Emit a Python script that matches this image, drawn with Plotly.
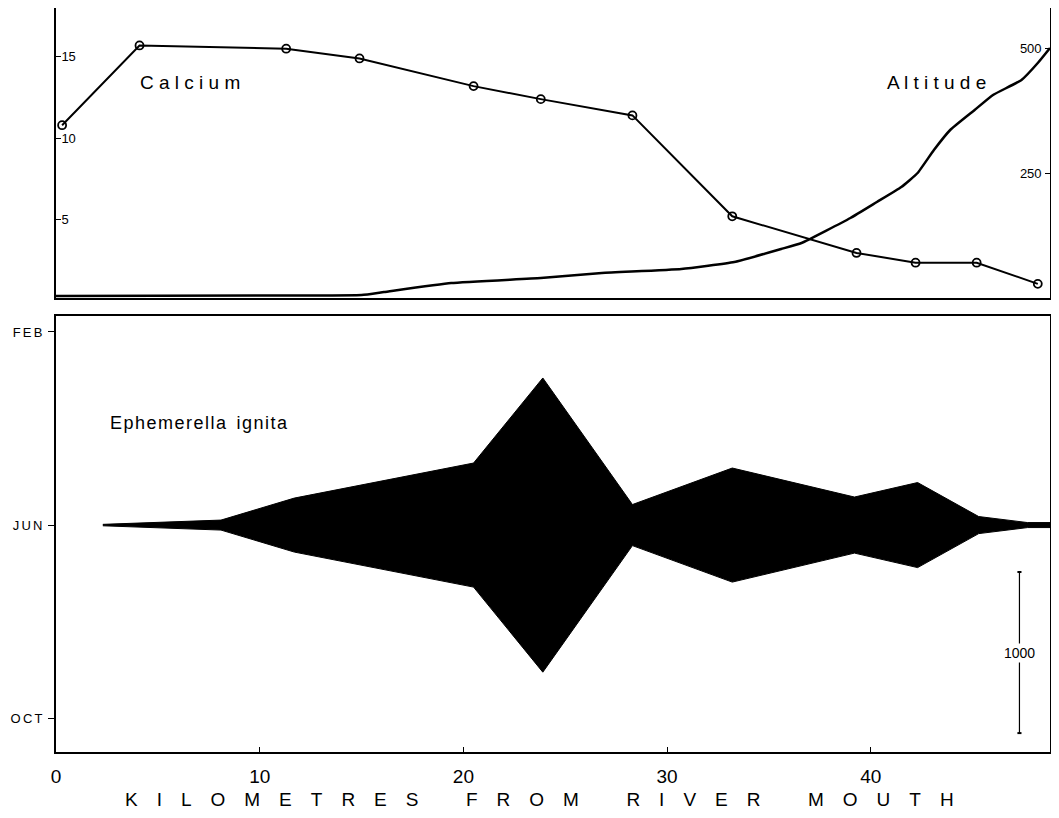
import plotly.graph_objects as go

# ---------------- data ----------------
# Calcium (top panel, left axis)
calcium_km = [0.3, 4.1, 11.3, 14.9, 20.5, 23.8, 28.3, 33.2, 39.3, 42.2, 45.2, 48.2]
calcium_val = [10.8, 15.7, 15.5, 14.9, 13.2, 12.4, 11.4, 5.2, 2.95, 2.35, 2.35, 1.05]

# Altitude (top panel, right axis)
alt_km = [0.0, 10.0, 15.0, 16.1, 19.4, 23.8, 26.8, 30.7, 33.3, 35.6, 36.6, 39.0, 40.3,
          41.5, 42.3, 43.1, 43.9, 45.1, 46.0, 47.4, 48.2, 48.8]
alt_m = [4, 5, 6, 12, 30, 40, 50, 58, 72, 98, 110, 160, 192,
         222, 250, 296, 336, 376, 406, 436, 470, 500]

# Ephemerella ignita abundance (kite diagram, bottom panel)
kite_km = [2.3, 8.1, 11.7, 20.5, 23.9, 28.3, 33.2, 39.2, 42.3, 45.3, 47.7, 48.8]
kite_n = [9, 62, 335, 770, 1826, 255, 708, 348, 528, 106, 31, 31]

month_ticks = [2, 6, 10]
month_labels = ["F\u2006E\u2006B", "J\u2006U\u2006N", "O\u2006C\u2006T"]
km_ticks = [0, 10, 20, 30, 40]
cal_ticks = [5, 10, 15]
alt_ticks = [250, 500]

KITE_CENTRE = 6            # JUN
MONTHS_PER_1000 = 3.337    # thickness of 1000 individuals, in month units
SCALE_N = 1000
SCALE_KM = 47.3
SCALE_CENTRE = 8.64

# ---------------- figure ----------------
fig = go.Figure()

half = [n / 1000 * MONTHS_PER_1000 / 2 for n in kite_n]
upper = [KITE_CENTRE - h for h in half]
lower = [KITE_CENTRE + h for h in half]
fig.add_trace(go.Scatter(
    x=kite_km + kite_km[::-1], y=upper + lower[::-1],
    fill="toself", fillcolor="black", mode="lines",
    line=dict(color="black", width=1), xaxis="x", yaxis="y",
    showlegend=False, hoverinfo="skip"))

# scale bar
sh = SCALE_N / 1000 * MONTHS_PER_1000 / 2
fig.add_trace(go.Scatter(
    x=[SCALE_KM, SCALE_KM], y=[SCALE_CENTRE - sh, SCALE_CENTRE + sh],
    mode="lines", line=dict(color="black", width=1.2),
    xaxis="x", yaxis="y", showlegend=False, hoverinfo="skip"))
for yy in (SCALE_CENTRE - sh, SCALE_CENTRE + sh):
    fig.add_trace(go.Scatter(
        x=[SCALE_KM - 0.1, SCALE_KM + 0.1], y=[yy, yy], mode="lines",
        line=dict(color="black", width=2), xaxis="x", yaxis="y",
        showlegend=False, hoverinfo="skip"))
fig.add_annotation(x=SCALE_KM, y=SCALE_CENTRE, xref="x", yref="y",
                   text=str(SCALE_N), showarrow=False, bgcolor="white",
                   font=dict(family="Liberation Sans", size=14, color="black"),
                   borderpad=1)

# altitude
fig.add_trace(go.Scatter(
    x=alt_km, y=alt_m, mode="lines", line=dict(color="black", width=2.5, shape="spline", smoothing=0.4),
    xaxis="x2", yaxis="y3", showlegend=False, hoverinfo="skip"))

# calcium
fig.add_trace(go.Scatter(
    x=calcium_km, y=calcium_val, mode="lines+markers",
    line=dict(color="black", width=2),
    marker=dict(symbol="circle-open", size=8, color="black", line=dict(width=1.8)),
    xaxis="x2", yaxis="y2", showlegend=False, hoverinfo="skip"))

axis_common = dict(showgrid=False, zeroline=False, linecolor="black", linewidth=2,
                   tickcolor="black", automargin=False)

# the page body adds an 8px offset, so the figure is 8px smaller than the window
fig.update_layout(
    width=1051, height=810,
    margin=dict(l=48, r=9, t=0, b=66),
    paper_bgcolor="white", plot_bgcolor="white",
    xaxis=dict(domain=[0, 1], anchor="y", range=[0, 48.8], tickvals=km_ticks,
               ticktext=[str(v) for v in km_ticks], ticks="inside", ticklen=5,
               showline=True, mirror=True, ticklabelstandoff=6,
               tickfont=dict(family="Liberation Sans Narrow, Liberation Sans", size=19, color="black"),
               **axis_common),
    yaxis=dict(domain=[0, 0.586], anchor="x", range=[10.7, 1.67], tickvals=month_ticks,
               ticktext=month_labels, ticks="outside", ticklen=6, showline=True, mirror=True,
               ticklabelstandoff=3,
               tickfont=dict(family="Liberation Sans", size=13, color="black"),
               **axis_common),
    xaxis2=dict(domain=[0, 1], anchor="y2", range=[0, 48.8], showticklabels=False,
                ticks="", showline=True, **axis_common),
    yaxis2=dict(domain=[0.6102, 1], anchor="x2", range=[0.18, 18.0], tickvals=cal_ticks,
                ticks="inside", ticklen=5, ticklabelposition="inside", showline=True,
                tickfont=dict(family="Liberation Sans", size=13, color="black"),
                **axis_common),
    yaxis3=dict(domain=[0.6102, 1], anchor="x2", overlaying="y2", side="right",
                range=[0, 580], tickvals=alt_ticks, ticks="inside", ticklen=5,
                ticklabelposition="inside", ticklabelstandoff=3, showline=True,
                tickfont=dict(family="Liberation Sans", size=13, color="black"),
                **axis_common),
    font=dict(family="Liberation Sans", color="black"),
)

fig.add_annotation(xref="paper", yref="paper", x=0.0825, y=0.9005, xanchor="left",
                   yanchor="middle", text="C a l c i u m", showarrow=False,
                   font=dict(family="Liberation Sans", size=19, color="black"))
fig.add_annotation(xref="paper", yref="paper", x=0.834, y=0.9005, xanchor="left",
                   yanchor="middle", text="A l t i t u d e", showarrow=False,
                   font=dict(family="Liberation Sans", size=19, color="black"))
fig.add_annotation(xref="paper", yref="paper", x=0.0523, y=0.4422, xanchor="left",
                   yanchor="middle",
                   text="E\u200ap\u200ah\u200ae\u200am\u200ae\u200ar\u200ae\u200al\u200al\u200aa\u2002\u200ai\u200ag\u200an\u200ai\u200at\u200aa",
                   showarrow=False,
                   font=dict(family="Liberation Sans", size=18, color="black"))

title_words = ["KILOMETRES", "FROM", "RIVER", "MOUTH"]
title_text = ("\u2002" * 5).join("\u2002\u2002".join(w) for w in title_words)
fig.add_annotation(xref="paper", yref="paper", x=0.486, y=-0.0645, xanchor="center",
                   yanchor="middle", text=title_text, showarrow=False,
                   font=dict(family="Liberation Sans", size=19, color="black"))

fig.write_html("out.html")
